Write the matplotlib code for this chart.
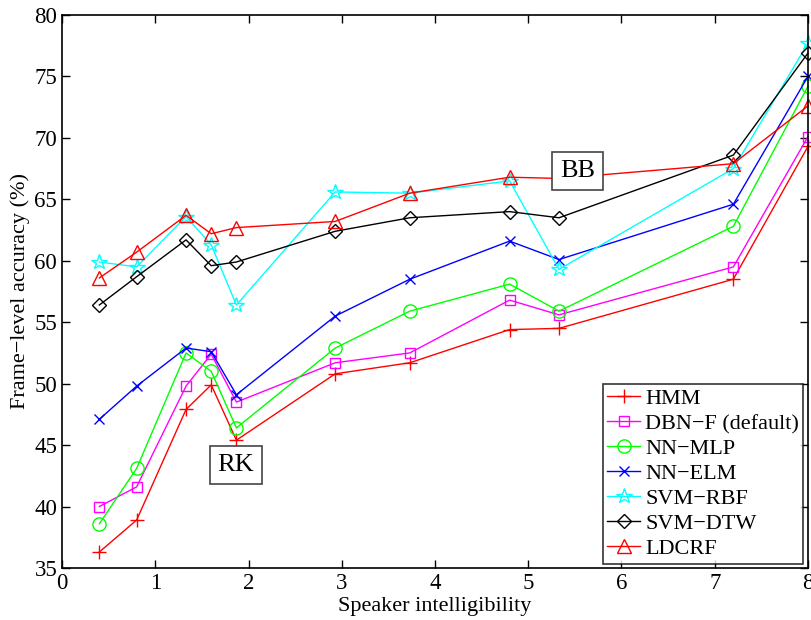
import matplotlib
matplotlib.use("Agg")
import matplotlib.pyplot as plt

plt.rcParams['font.family'] = ['Liberation Serif', 'DejaVu Serif']

intelligibility = [0.4, 0.8, 1.33, 1.6, 1.87, 2.93, 3.73, 4.8, 5.33, 7.2, 8.0]

hmm = [36.3, 38.9, 47.9, 49.9, 45.4, 50.8, 51.7, 54.4, 54.5, 58.5, 69.3]
dbn_f = [40.0, 41.6, 49.8, 52.4, 48.5, 51.7, 52.5, 56.8, 55.6, 59.5, 70.1]
nn_mlp = [38.6, 43.1, 52.5, 51.0, 46.4, 52.9, 55.9, 58.1, 55.9, 62.8, 74.2]
nn_elm = [47.1, 49.8, 52.9, 52.6, 49.1, 55.5, 58.5, 61.6, 60.1, 64.6, 75.0]
svm_rbf = [59.9, 59.5, 63.6, 61.3, 56.4, 65.6, 65.5, 66.5, 59.3, 67.5, 77.7]
svm_dtw = [56.4, 58.7, 61.7, 59.6, 59.9, 62.4, 63.5, 64.0, 63.5, 68.6, 76.9]
ldcrf = [58.6, 60.7, 63.7, 62.2, 62.7, 63.2, 65.5, 66.8, 66.7, 67.9, 72.6]

series = [
    ("HMM", hmm, '#ff0000', '+', False),
    ("DBN\u2212F (default)", dbn_f, '#ff00ff', 's', True),
    ("NN\u2212MLP", nn_mlp, '#00ff00', 'o', True),
    ("NN\u2212ELM", nn_elm, '#0000ff', 'x', False),
    ("SVM\u2212RBF", svm_rbf, '#00ffff', '*', True),
    ("SVM\u2212DTW", svm_dtw, '#000000', 'D', True),
    ("LDCRF", ldcrf, '#ff0000', '^', True),
]
marker_sizes = {'+': 9.5, 's': 7.5, 'o': 9.5, 'x': 7, '*': 11.5, 'D': 7.5, '^': 9.5}

fig = plt.figure(figsize=(8.12, 6.2), dpi=100)
ax = fig.add_axes([0.0764, 0.0839, 0.9186, 0.8919])

for label, vals, color, mk, hollow in series:
    ax.plot(intelligibility, vals, color=color, marker=mk, lw=1.0,
            markersize=marker_sizes[mk], markeredgewidth=1.0,
            markerfacecolor='none' if hollow else color,
            markeredgecolor=color, label=label, clip_on=False)

ax.set_xlim(0, 8)
ax.set_ylim(35, 80)
ax.set_xticks(range(0, 9))
ax.set_yticks(range(35, 81, 5))
ax.tick_params(direction='in', top=True, right=True, labelsize=16.5, length=6, width=1)
for s in ax.spines.values():
    s.set_linewidth(1.2)

ax.set_xlabel("Speaker intelligibility", fontsize=16, labelpad=2)
ax.set_ylabel("Frame\u2212level accuracy (%)", fontsize=16, labelpad=3)

box = dict(boxstyle='square,pad=0.3', facecolor='white', edgecolor='#444444', lw=1.2)
ax.text(1.866, 43.4, "RK", fontsize=19, ha='center', va='center', bbox=box)
ax.text(5.53, 67.3, "BB", fontsize=19, ha='center', va='center', bbox=box)

leg = ax.legend(loc='lower right', fontsize=16, frameon=True, fancybox=False,
                edgecolor='k', handlelength=1.5, handletextpad=0.22,
                borderpad=0.2, labelspacing=0.2, borderaxespad=0.2)
leg.get_frame().set_linewidth(1.2)

fig.savefig("out.png", dpi=100)
